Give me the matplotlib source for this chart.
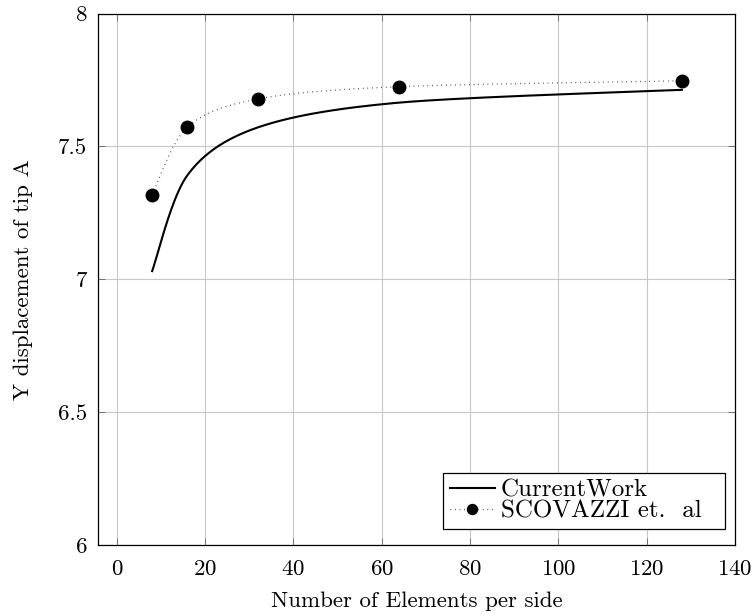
import numpy as np
import matplotlib
matplotlib.use('Agg')
import matplotlib.pyplot as plt

plt.rcParams['font.family'] = 'serif'
plt.rcParams['font.serif'] = ['cmr10', 'DejaVu Serif']
plt.rcParams['mathtext.fontset'] = 'cm'
plt.rcParams['axes.formatter.use_mathtext'] = True

# data
elements = [8, 16, 32, 64, 128]
current_work = [7.031, 7.392, 7.572, 7.665, 7.713]
scovazzi = [7.319, 7.573, 7.679, 7.725, 7.747]


def smooth(xs, ys, tension=0.55, n=40):
    # tikz-like "smooth" curve: cardinal spline through the points
    p = np.column_stack([xs, ys]).astype(float)
    k = tension * 0.2775
    out = []
    for i in range(len(p) - 1):
        a, b = p[i], p[i + 1]
        prev = p[i - 1] if i > 0 else a
        nxt = p[i + 2] if i + 2 < len(p) else b
        c1 = a + k * (b - prev)
        c2 = b - k * (nxt - a)
        t = np.linspace(0, 1, n)[:, None]
        seg = ((1 - t) ** 3) * a + 3 * ((1 - t) ** 2) * t * c1 \
            + 3 * (1 - t) * t ** 2 * c2 + t ** 3 * b
        out.append(seg if i == 0 else seg[1:])
    out = np.vstack(out)
    return out[:, 0], out[:, 1]


fs = 16.5
dots = (0, (0.5, 3.2))

fig = plt.figure(figsize=(7.56, 6.16), dpi=100)
ax = fig.add_axes([0.130, 0.115, 0.842, 0.863])

sx, sy = smooth(elements, current_work)
ax.plot(sx, sy, color='black', lw=1.5, label='CurrentWork')
tx, ty = smooth(elements, scovazzi)
ax.plot(tx, ty, color='black', lw=0.9, ls=dots)
ax.plot(elements, scovazzi, 'o', color='black', ms=9, ls='none')

# legend proxy for the dotted series with markers
ax.plot([], [], color='black', lw=0.9, ls=dots, marker='o',
        ms=9, label='SCOVAZZI et.  al  ')

ax.set_xlim(-4.2, 140)
ax.set_ylim(6, 8)
ax.set_xticks(np.arange(0, 141, 20))
ax.set_yticks([6, 6.5, 7, 7.5, 8])
ax.set_yticklabels(['6', '6.5', '7', '7.5', '8'])
ax.grid(True, color='#c8c8c8', lw=0.8)
ax.set_axisbelow(True)
ax.tick_params(direction='in', top=True, right=True, length=5,
               width=0.6, color='#666666', labelsize=fs)
ax.tick_params(axis='x', pad=10)
ax.tick_params(axis='y', pad=8)
for s in ax.spines.values():
    s.set_linewidth(0.9)

ax.set_xlabel('Number of Elements per side', fontsize=fs, labelpad=9)
ax.set_ylabel('Y displacement of tip A', fontsize=fs, labelpad=18)

leg = ax.legend(loc='lower right', bbox_to_anchor=(0.984, 0.03),
                fontsize=18, fancybox=False, markerscale=0.8,
                edgecolor='black', framealpha=1, handlelength=1.8,
                borderpad=0.25, labelspacing=-0.05, handletextpad=0.25,
                borderaxespad=0)
leg.get_frame().set_linewidth(0.9)

fig.savefig('out.png', dpi=100)
